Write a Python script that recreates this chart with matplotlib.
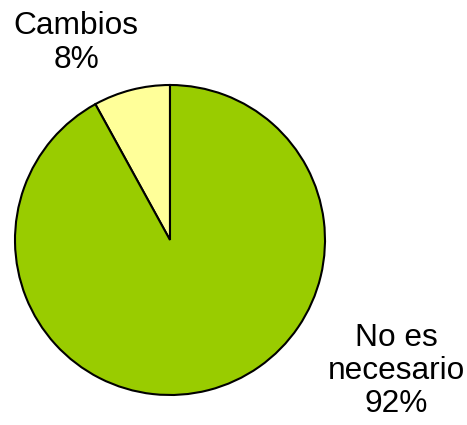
import matplotlib
matplotlib.use('Agg')
import matplotlib.pyplot as plt

labels = ['Cambios', 'No es\nnecesario']
values = [8, 92]
colors = ['#FFFF99', '#99CC00']

plt.rcParams['font.family'] = ['Liberation Sans', 'DejaVu Sans']

fig = plt.figure(figsize=(4.67, 4.25), dpi=100)
# pie area: 310 px square, center at (170, 240) from top-left
ax = fig.add_axes([15 / 467, 30 / 425, 310 / 467, 310 / 425])
ax.pie(values, colors=colors, startangle=90, counterclock=True,
       wedgeprops={'edgecolor': 'black', 'linewidth': 1.5})
ax.set_xlim(-1, 1)
ax.set_ylim(-1, 1)
ax.set_aspect('equal')
ax.axis('off')

# label positions outside the pie
label_pos = [(-0.606, 1.272), (1.458, -0.845)]
total = sum(values)
for lab, val, (x, y) in zip(labels, values, label_pos):
    ax.text(x, y, '{}\n{:.0f}%'.format(lab, 100.0 * val / total),
            ha='center', va='center', multialignment='center',
            fontsize=22.8, linespacing=1.15, clip_on=False)

fig.savefig('out.png', dpi=100)
